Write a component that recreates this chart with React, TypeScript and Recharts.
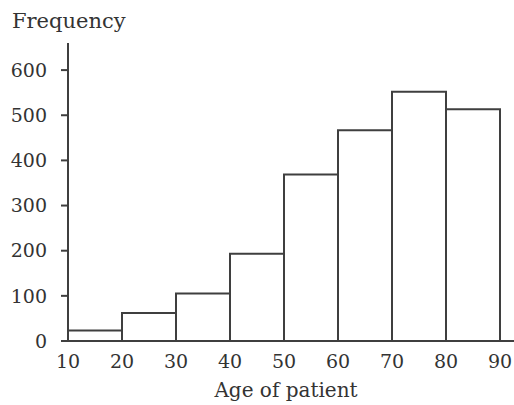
import { BarChart, Bar, XAxis, YAxis } from 'recharts'

// histogram bins (lower edge of each 10-year bin)
const binStarts = [10, 20, 30, 40, 50, 60, 70, 80]
const frequencies = [23, 62, 105, 193, 369, 467, 552, 513]
const xTicks = [10, 20, 30, 40, 50, 60, 70, 80, 90]
const yTicks = [0, 100, 200, 300, 400, 500, 600]

const data = binStarts.map((lo, i) => ({ bin: `${lo}-${lo + 10}`, lo, freq: frequencies[i] }))

const ink = '#3f3f3f'
const font = '"DejaVu Serif", serif'

export default function App() {
  return (
    <div style={{ position: 'absolute', left: 0, top: 0, width: 514, height: 405, background: '#fff' }}>
      <BarChart
        width={514}
        height={405}
        data={data}
        margin={{ top: 43, right: 0, bottom: 0, left: 0 }}
        barCategoryGap={0}
        barGap={0}
      >
        <XAxis xAxisId="cat" dataKey="bin" hide height={0} padding={{ left: 0, right: 14 }} />
        <XAxis
          xAxisId="num"
          type="number"
          dataKey="lo"
          domain={[10, 90]}
          ticks={xTicks}
          allowDataOverflow
          padding={{ left: 0, right: 14 }}
          height={64}
          axisLine={{ stroke: ink, strokeWidth: 2 }}
          tickLine={false}
          tickSize={0}
          tickMargin={14}
          tick={{ fontSize: 19, fill: '#333', fontFamily: font }}
          label={{
            content: () => (
              <text x={286} y={397} textAnchor="middle" fontSize={20} fill="#333" fontFamily={font}>
                Age of patient
              </text>
            ),
          }}
        />
        <YAxis
          type="number"
          domain={[0, 660]}
          ticks={yTicks}
          width={68}
          axisLine={{ stroke: ink, strokeWidth: 2 }}
          tickLine={{ stroke: ink, strokeWidth: 2 }}
          tickSize={7}
          tickMargin={14}
          tick={{ fontSize: 19, fill: '#333', fontFamily: font }}
          label={{
            content: () => (
              <text x={12} y={28} fontSize={21} fill="#333" fontFamily={font}>
                Frequency
              </text>
            ),
          }}
        />
        <Bar
          xAxisId="cat"
          dataKey="freq"
          fill="#fff"
          stroke={ink}
          strokeWidth={2}
          isAnimationActive={false}
        />
      </BarChart>
    </div>
  )
}
